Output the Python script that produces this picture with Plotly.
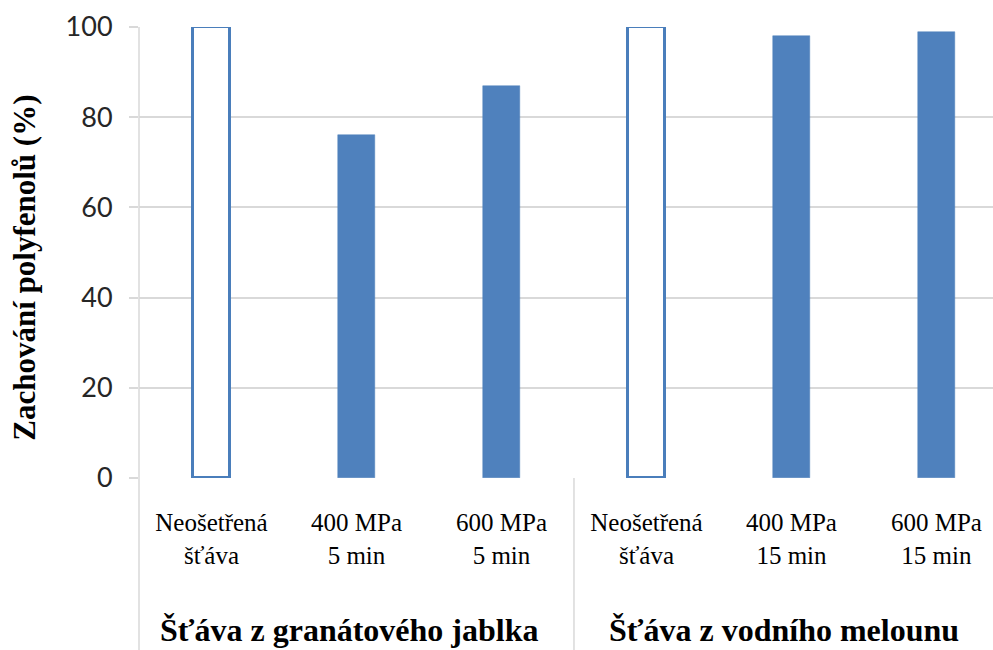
import plotly.graph_objects as go

# Polyphenol retention per treatment, grouped by juice type
categories = [
    "Neošetřená<br>šťáva", "400 MPa<br>5 min", "600 MPa<br>5 min",
    "Neošetřená<br>šťáva", "400 MPa<br>15 min", "600 MPa<br>15 min",
]
retention = [100, 76, 87, 100, 98, 99]
untreated = [True, False, False, True, False, False]
groups = ["Šťáva z granátového jablka", "Šťáva z vodního melounu"]
y_ticks = [0, 20, 40, 60, 80, 100]

BLUE = "#4f81bd"
EDGE = "#4a7ebb"
GRID = "#d9d9d9"
SERIF = "Liberation Serif, Times New Roman, serif"

x_pos = list(range(len(categories)))

fig = go.Figure()
fig.add_trace(go.Bar(
    x=x_pos,
    y=retention,
    width=0.255,
    marker=dict(
        color=["white" if u else BLUE for u in untreated],
        line=dict(color=[EDGE if u else BLUE for u in untreated],
                  width=[3 if u else 0.5 for u in untreated]),
    ),
    hoverinfo="skip",
))

fig.update_layout(
    width=993, height=650,
    margin=dict(l=139, r=0, t=27, b=172),
    plot_bgcolor="white", paper_bgcolor="white",
    showlegend=False,
    bargap=0,
)

fig.update_xaxes(
    range=[-0.5, 5.39],
    tickmode="array", tickvals=x_pos, ticktext=categories,
    tickfont=dict(family=SERIF, size=25, color="#000000"),
    ticks="", showgrid=False, zeroline=False, showline=False,
    ticklabelstandoff=27,
)
fig.update_yaxes(
    range=[0, 100],
    tickmode="array", tickvals=y_ticks,
    tickfont=dict(family="Lato, Open Sans, sans-serif", size=27, color="#262626"),
    ticks="outside", ticklen=9, tickcolor=GRID, tickwidth=1.5,
    showgrid=True, gridcolor=GRID, gridwidth=1.5,
    zeroline=False, showline=False,
    ticklabelstandoff=11,
)

# Value axis line and the divider between the two juice groups
fig.add_shape(type="line", xref="paper", yref="paper",
              x0=0, x1=0, y0=1, y1=-0.4,
              line=dict(color=GRID, width=1.5))
fig.add_shape(type="line", xref="x", yref="paper",
              x0=2.5, x1=2.5, y0=0, y1=-0.4,
              line=dict(color=GRID, width=1.5))

# Group titles under the category labels
for gx, name in zip([0.95, 3.95], groups):
    fig.add_annotation(
        x=gx, y=-0.337, xref="x", yref="paper",
        text=f"<b>{name}</b>", showarrow=False,
        xanchor="center", yanchor="middle",
        font=dict(family=SERIF, size=32, color="#000000"),
    )

# Value axis title
fig.add_annotation(
    x=-0.135, y=0.4656, xref="paper", yref="paper",
    text="<b>Zachování polyfenolů (%)</b>", textangle=-90,
    showarrow=False, xanchor="center", yanchor="middle",
    font=dict(family=SERIF, size=31, color="#000000"),
)

fig.write_html("out.html")
